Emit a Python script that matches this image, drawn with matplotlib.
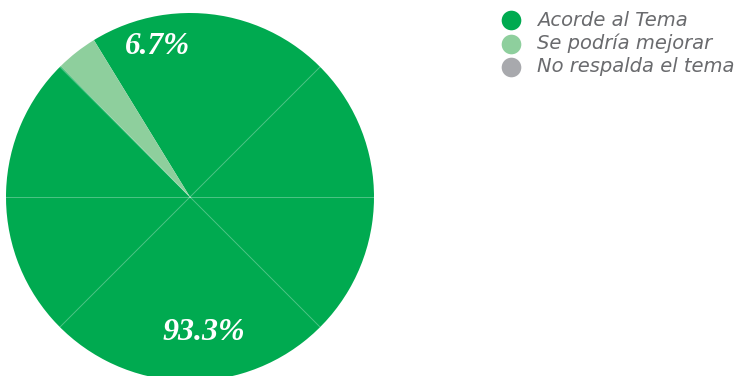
import matplotlib
matplotlib.use("Agg")
import matplotlib.pyplot as plt
import numpy as np

categories = ["Acorde al Tema", "Se podría mejorar", "No respalda el tema"]
slice_values = [96.33, 3.67, 0.0]          # wedge sizes as drawn
label_texts = ["93.3%", "6.7%"]            # printed labels
colors = ["#00AA50", "#8ECF9D", "#A8A9AD"]
divider_angles = [0, 45, 135, 180, 225, 315]

W, H = 736, 376
fig = plt.figure(figsize=(W / 100, H / 100), dpi=100)
ax = fig.add_axes([0, 0, 1, 1])

cx, cy, r = 190, H - 197, 184
ax.pie(slice_values, colors=colors, startangle=134.7, counterclock=True,
       center=(cx, cy), radius=r, wedgeprops=dict(linewidth=0))

for a in divider_angles:
    t = np.deg2rad(a)
    ax.plot([cx, cx + r * np.cos(t)], [cy, cy + r * np.sin(t)],
            color="white", alpha=0.3, lw=0.7, zorder=3)

ax.text(157, H - 47, label_texts[1], ha="center", va="center", color="white",
        fontsize=22.5, fontweight="bold", fontstyle="italic", family="Liberation Serif", zorder=4)
ax.text(204, H - 333, label_texts[0], ha="center", va="center", color="white",
        fontsize=23, fontweight="bold", fontstyle="italic", family="Liberation Serif", zorder=4)

for i, (name, c) in enumerate(zip(categories, colors)):
    y = H - (20 + i * 23.5)
    ax.scatter([511], [y], s=200, color=c, zorder=4, linewidths=0)
    ax.text(537, y, name, ha="left", va="center", color="#6A6B6E",
            fontsize=14, fontstyle="oblique", family="DejaVu Sans")

ax.set_xlim(0, W)
ax.set_ylim(0, H)
ax.set_aspect("equal")
ax.axis("off")
fig.savefig("out.png", dpi=100)
